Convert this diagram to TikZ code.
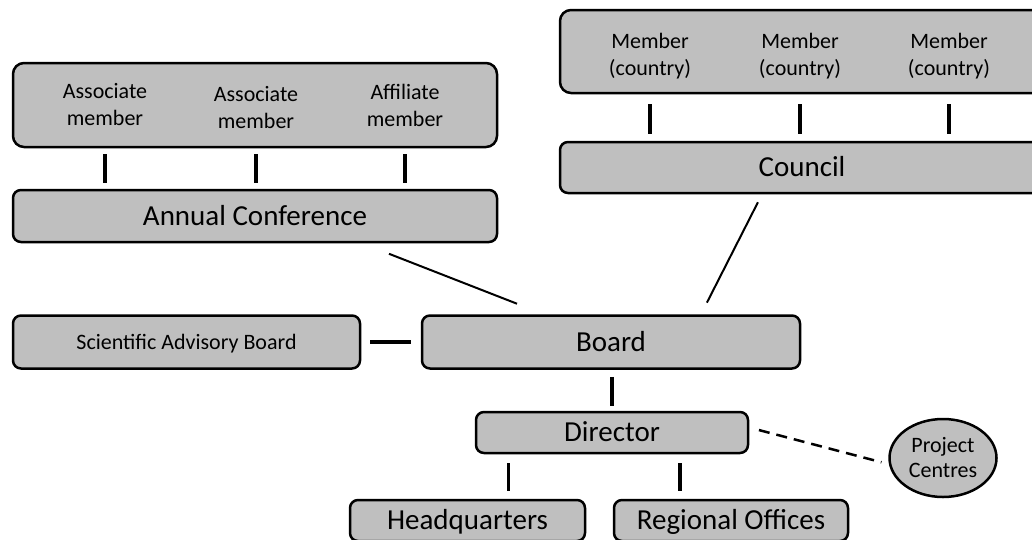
\documentclass[tikz,border=0pt]{standalone}
\usepackage{fontspec}
\setmainfont{Carlito}
\usetikzlibrary{shapes.geometric}
\definecolor{boxgray}{RGB}{191,191,191}
\tikzset{
  orgbox/.style={draw, line width=2.5pt, fill=boxgray, rounded corners=8pt, inner sep=0pt,
    text height=18.7pt, text depth=0pt, font=\fontsize{29}{34}\selectfont},
  smallbox/.style={orgbox, text height=14.2pt, font=\fontsize{22}{27}\selectfont},
  groupbox/.style={orgbox, rounded corners=11pt, minimum width=484pt, minimum height=84pt},
  grouptext/.style={align=center, inner sep=0pt, font=\fontsize{22}{27}\selectfont},
  link/.style={line width=3.5pt},
  thinlink/.style={line width=2pt},
  dashlink/.style={line width=2.5pt, dash pattern=on 11pt off 7pt},
}
\begin{document}
\begin{tikzpicture}[x=1pt, y=-1pt]
    \useasboundingbox (0,0) rectangle (1032,539);
    \clip (0,0) rectangle (1032,539);
    % Ассоциированные члены
    \node[groupbox] (assoc) at (255,105) {};
    \node[grouptext] (am1) at (105,105) {Associate\\member};
    \node[grouptext] (am2) at (256,108) {Associate\\member};
    \node[grouptext] (am3) at (405,105) {Affiliate\\member};
    \node[orgbox, minimum width=484pt, minimum height=52pt] (conf) at (255,216) {Annual Conference};
    \foreach \m in {am1, am2, am3}
        \draw[link, shorten <=6pt, shorten >=6pt] (\m |- assoc.south) -- (\m |- conf.north);
    % Страны-члены
    \node[groupbox, minimum height=83pt] (members) at (802,51.5) {};
    \node[grouptext] (m1) at (650,56) {Member\\(country)};
    \node[grouptext] (m2) at (800,56) {Member\\(country)};
    \node[grouptext] (m3) at (949,56) {Member\\(country)};
    \node[orgbox, minimum width=484pt, minimum height=51pt] (council) at (802,167.5) {Council};
    \foreach \m in {m1, m2, m3}
        \draw[link, shorten <=10pt, shorten >=7pt] (\m |- members.south) -- (\m |- council.north);
    % Правление
    \node[smallbox, minimum width=347pt, minimum height=53pt] (sab) at (186.5,342) {Scientific Advisory Board};
    \node[orgbox, minimum width=378pt, minimum height=53pt] (board) at (611,342) {Board};
    \draw[link, shorten <=9pt, shorten >=10pt] (sab) -- (board);
    \draw[thinlink, shorten <=29pt, shorten >=29pt] ([xshift=107pt]conf.south) -- ([xshift=-67pt]board.north);
    \draw[thinlink, shorten <=9pt, shorten >=13pt] ([xshift=-40pt]council.south) -- ([xshift=90pt]board.north);
    % Директор и офисы
    \node[orgbox, minimum width=272pt, minimum height=41pt] (dir) at (612,432.5) {Director};
    \node[orgbox, minimum width=235pt, minimum height=41pt] (hq) at (467.5,520.5) {Headquarters};
    \node[orgbox, minimum width=234pt, minimum height=41pt] (ro) at (731,520.5) {Regional Offices};
    \node[draw, ellipse, line width=2.5pt, fill=boxgray, minimum width=107pt, minimum height=78pt,
        inner sep=0pt, align=center, font=\fontsize{22}{25}\selectfont] (proj) at (943,458) {Project\\Centres};
    \draw[link, shorten <=7pt, shorten >=5pt] (dir.north |- board.south) -- (dir.north);
    \coordinate (hqtop) at ([xshift=41pt]hq.north);
    \coordinate (rotop) at ([xshift=-51pt]ro.north);
    \draw[link, shorten <=9pt, shorten >=8pt] (hqtop |- dir.south) -- (hqtop);
    \draw[link, shorten <=9pt, shorten >=8pt] (rotop |- dir.south) -- (rotop);
    \draw[dashlink, shorten <=10pt, shorten >=7pt] ([yshift=5pt]dir.east) -- ([yshift=-6pt]proj.west);
\end{tikzpicture}
\end{document}
